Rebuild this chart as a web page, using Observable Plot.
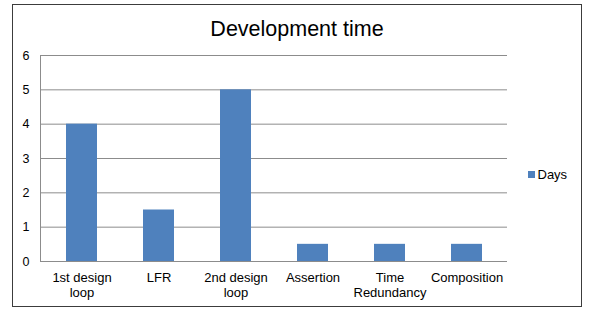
<!DOCTYPE html>
<html>
<head>
<meta charset="utf-8">
<script src="https://cdn.jsdelivr.net/npm/d3@7"></script>
<script src="https://cdn.jsdelivr.net/npm/@observablehq/plot@0.6"></script>
<style>
  html, body { margin: 0; padding: 0; background: #fff; }
  svg { display: block; }
</style>
</head>
<body>
<div id="chart"></div>
<script>
const categories = ["1st design loop", "LFR", "2nd design loop", "Assertion", "Time Redundancy", "Composition"];
const tickLabels = ["1st design\nloop", "LFR", "2nd design\nloop", "Assertion", "Time\nRedundancy", "Composition"];
const days = [4, 1.5, 5, 0.5, 0.5, 0.5];
const yTicks = [0, 1, 2, 3, 4, 5, 6];
const title = "Development time";
const seriesName = "Days";

const data = categories.map((c, i) => ({category: c, days: days[i]}));
const labelOf = new Map(categories.map((c, i) => [c, tickLabels[i]]));

const W = 590, H = 311;
const mL = 40, mR = 83, mT = 55, mB = 50;
const font = "'Liberation Sans', Arial, sans-serif";

const chart = Plot.plot({
  width: W,
  height: H,
  marginLeft: mL,
  marginRight: mR,
  marginTop: mT,
  marginBottom: mB,
  style: {fontFamily: font, fontSize: "13px", color: "#000", background: "#fff"},
  x: {domain: categories, paddingInner: 0.6, paddingOuter: 0.3, label: null},
  y: {domain: [0, 6], label: null},
  marks: [
    Plot.gridY(yTicks, {stroke: "#8c8c8c", strokeOpacity: 1}),
    Plot.barY(data, {x: "category", y: "days", fill: "#4F81BD"}),
    Plot.ruleY([0], {stroke: "#8c8c8c"}),
    Plot.axisY(yTicks, {tickSize: 0, tickPadding: 11, label: null, fontSize: 12.5, fill: "#000"}),
    Plot.axisX({tickSize: 0, tickPadding: 10, label: null, tickFormat: d => labelOf.get(d), fontSize: 13, fill: "#000", lineHeight: 1.15})
  ]
});

const svg = d3.select(chart);
// outer border
svg.insert("rect", ":first-child")
  .attr("x", 12.5).attr("y", 4.5).attr("width", 569).attr("height", 302)
  .attr("fill", "#fff").attr("stroke", "#3c3c3c").attr("stroke-width", 1);
// left axis line
svg.append("line")
  .attr("x1", mL + 0.5).attr("x2", mL + 0.5)
  .attr("y1", mT).attr("y2", H - mB)
  .attr("stroke", "#8c8c8c");
// title
svg.append("text")
  .attr("x", 297).attr("y", 36)
  .attr("text-anchor", "middle")
  .attr("font-family", font).attr("font-size", 21.5).attr("fill", "#000")
  .text(title);
// legend
const lg = svg.append("g").attr("transform", "translate(528,171)");
lg.append("rect").attr("x", 0).attr("y", 0).attr("width", 7).attr("height", 7).attr("fill", "#4F81BD");
lg.append("text").attr("x", 9.5).attr("y", 8)
  .attr("text-anchor", "start")
  .attr("font-family", font).attr("font-size", 13).attr("fill", "#000")
  .text(seriesName);

document.getElementById("chart").appendChild(chart);
</script>
</body>
</html>
